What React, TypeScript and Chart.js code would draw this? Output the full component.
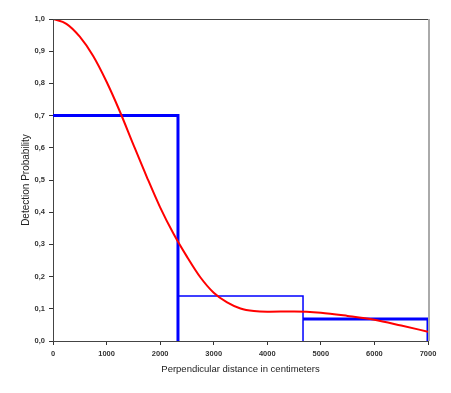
import React, { useEffect, useRef } from "react";
import { Chart, registerables } from "chart.js";

Chart.register(...registerables);

// Histogram bins (perpendicular distance, cm) and detection probabilities
const binEdges = [0, 2333, 4667, 7000];
const binHeights = [0.70, 0.14, 0.068];

// Fitted detection function
const curveX = [0, 250, 500, 750, 1000, 1250, 1500, 1750, 2000, 2250, 2500, 2750, 3000, 3250, 3500, 3750, 4000, 4500, 5000, 5500, 6000, 6500, 7000];
const curveY = [1.0, 0.985, 0.945, 0.885, 0.805, 0.712, 0.61, 0.51, 0.415, 0.333, 0.262, 0.198, 0.15, 0.12, 0.101, 0.093, 0.091, 0.092, 0.088, 0.078, 0.066, 0.048, 0.029];

const xTicks = [0, 1000, 2000, 3000, 4000, 5000, 6000, 7000];
const yTicks = [0, 0.1, 0.2, 0.3, 0.4, 0.5, 0.6, 0.7, 0.8, 0.9, 1.0];

const binLineWidths = [3, 1.5, 3];

const FONT = "'Liberation Sans', Arial, sans-serif";

const borderPlugin = {
  id: "frameBorder",
  afterDatasetsDraw(chart: any) {
    const { ctx, chartArea } = chart;
    ctx.save();
    ctx.lineWidth = 1;
    ctx.strokeStyle = "#444";
    ctx.beginPath();
    ctx.moveTo(chartArea.left, chartArea.top + 0.5);
    ctx.lineTo(chartArea.right, chartArea.top + 0.5);
    ctx.stroke();
    ctx.strokeStyle = "#aaaaaa";
    ctx.lineWidth = 2;
    ctx.beginPath();
    ctx.moveTo(chartArea.right + 1, chartArea.top);
    ctx.lineTo(chartArea.right + 1, chartArea.bottom);
    ctx.stroke();
    ctx.restore();
  },
};

export default function App() {
  const ref = useRef<HTMLCanvasElement | null>(null);
  useEffect(() => {
    if (!ref.current) return;
    const binDatasets = binHeights.map((h, i) => ({
      label: "bin" + i,
      data: [
        { x: binEdges[i], y: h },
        { x: binEdges[i + 1], y: h },
        { x: binEdges[i + 1], y: 0 },
      ],
      borderColor: "#0000ff",
      borderWidth: binLineWidths[i],
      pointRadius: 0,
      fill: false,
      tension: 0,
      order: 2,
    }));
    const chart = new Chart(ref.current, {
      type: "line",
      data: {
        datasets: [
          {
            label: "curve",
            data: curveX.map((x, i) => ({ x, y: curveY[i] })),
            borderColor: "#ff0000",
            borderWidth: 2,
            pointRadius: 0,
            fill: false,
            cubicInterpolationMode: "monotone",
            order: 1,
          },
          ...binDatasets,
        ] as any,
      },
      options: {
        animation: false,
        responsive: true,
        maintainAspectRatio: false,
        layout: { padding: { top: 19, right: 23, left: 0, bottom: 0 } },
        plugins: { legend: { display: false }, tooltip: { enabled: false } },
        scales: {
          x: {
            type: "linear",
            min: 0,
            max: 7000,
            afterBuildTicks: (scale: any) => {
              scale.ticks = xTicks.map((v) => ({ value: v }));
            },
            afterFit: (scale: any) => {
              scale.height = 52;
            },
            grid: { drawOnChartArea: false, tickLength: 4, color: "#333", tickColor: "#333" },
            border: { color: "#444", width: 1 },
            ticks: {
              font: { family: FONT, size: 7.5, weight: "bold" },
              color: "#333",
              padding: 4,
              maxRotation: 0,
              callback: (v: any) => String(v),
            },
            title: {
              display: true,
              text: "Perpendicular distance in centimeters",
              font: { family: FONT, size: 9.5 },
              color: "#222",
              padding: { top: 0, bottom: 18 },
            },
          },
          y: {
            type: "linear",
            min: 0,
            max: 1,
            afterBuildTicks: (scale: any) => {
              scale.ticks = yTicks.map((v) => ({ value: v }));
            },
            afterFit: (scale: any) => {
              scale.width = 53;
            },
            grid: { drawOnChartArea: false, tickLength: 4, color: "#333", tickColor: "#333" },
            border: { color: "#444", width: 1 },
            ticks: {
              font: { family: FONT, size: 7.5, weight: "bold" },
              color: "#333",
              padding: 4,
              callback: (v: any) => Number(v).toFixed(1).replace(".", ","),
            },
            title: {
              display: true,
              text: "Detection Probability",
              font: { family: FONT, size: 10 },
              color: "#222",
              padding: { top: 20, bottom: 0 },
            },
          },
        },
      } as any,
      plugins: [borderPlugin],
    });
    return () => chart.destroy();
  }, []);
  return (
    <div style={{ position: "absolute", left: 0, top: 0, width: 451, height: 393, background: "#fff" }}>
      <canvas ref={ref} />
    </div>
  );
}
